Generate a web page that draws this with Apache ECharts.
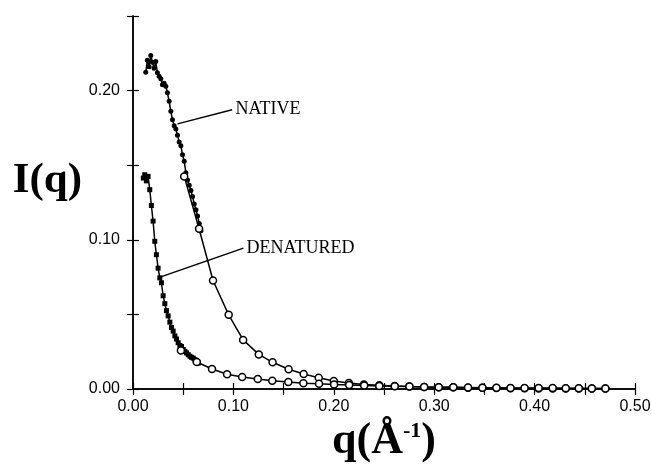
<!DOCTYPE html>
<html>
<head>
<meta charset="utf-8">
<script src="https://cdn.jsdelivr.net/npm/echarts@6/dist/echarts.min.js"></script>
<style>html,body{margin:0;padding:0;background:#fff;}#c{width:652px;height:470px;}</style>
</head>
<body>
<div id="c"></div>
<script>
// Native, filled dots (low q)
var qNativeFilled = [0.0127,0.0143,0.0160,0.0177,0.0193,0.0210,0.0227,0.0243,0.0260,0.0277,0.0293,0.0310,0.0327,0.0343,0.0360,0.0377,0.0393,0.0410,0.0427,0.0443,0.0460,0.0477,0.0493,0.0510,0.0527,0.0543,0.0560,0.0577,0.0593,0.0610,0.0627,0.0643,0.0660,0.0677];
var iNativeFilled = [0.2123,0.2203,0.2160,0.2235,0.2190,0.2150,0.2195,0.2119,0.2096,0.2079,0.2040,0.2050,0.2029,0.1985,0.1928,0.1861,0.1805,0.1765,0.1743,0.1700,0.1655,0.1630,0.1570,0.1526,0.1450,0.1400,0.1365,0.1330,0.1290,0.1240,0.1201,0.1160,0.1110,0.1060];
// Native, open circles
var qNativeOpen = [0.0510,0.0658,0.0797,0.0953,0.1097,0.1253,0.1390,0.1550,0.1700,0.1850,0.2000,0.2150,0.2300,0.2453,0.2607,0.2753,0.2900,0.3045,0.3190,0.3337,0.3480,0.3620,0.3760,0.3900,0.4040,0.4180,0.4310,0.4440,0.4570,0.4705];
var iNativeOpen = [0.1425,0.1074,0.0727,0.0497,0.0329,0.0232,0.0179,0.0132,0.0101,0.0076,0.0054,0.0040,0.0030,0.0025,0.0020,0.0016,0.0013,0.0011,0.0011,0.0009,0.0009,0.0006,0.0005,0.0005,0.0004,0.0004,0.0004,0.0003,0.0003,0.0003];
// Denatured, filled squares (low q)
var qDenatFilled = [0.0103,0.0117,0.0133,0.0150,0.0167,0.0183,0.0200,0.0217,0.0233,0.0250,0.0267,0.0283,0.0300,0.0317,0.0333,0.0350,0.0367,0.0383,0.0400,0.0417,0.0433,0.0450,0.0467,0.0483,0.0500,0.0517,0.0533,0.0550,0.0567,0.0583,0.0600,0.0617,0.0633,0.0650];
var iDenatFilled = [0.1414,0.1436,0.1395,0.1425,0.1336,0.1230,0.1125,0.0990,0.0900,0.0810,0.0745,0.0712,0.0625,0.0572,0.0525,0.0490,0.0448,0.0412,0.0388,0.0356,0.0335,0.0310,0.0292,0.0285,0.0265,0.0252,0.0242,0.0230,0.0219,0.0212,0.0207,0.0196,0.0185,0.0174];
// Denatured, open circles
var qDenatOpen = [0.0477,0.0635,0.0787,0.0937,0.1087,0.1243,0.1387,0.1547,0.1697,0.1853,0.2003,0.2153,0.2303,0.2453,0.2607,0.2753,0.2900,0.3045,0.3190,0.3337,0.3480,0.3620,0.3760,0.3900,0.4040,0.4180,0.4310,0.4440,0.4570,0.4705];
var iDenatOpen = [0.0258,0.0181,0.0134,0.0099,0.0081,0.0067,0.0056,0.0047,0.0038,0.0035,0.0030,0.0027,0.0023,0.0020,0.0018,0.0016,0.0014,0.0012,0.0011,0.0010,0.0009,0.0008,0.0007,0.0007,0.0006,0.0006,0.0005,0.0005,0.0004,0.0004];
// Annotations
var labelNames = ['NATIVE', 'DENATURED'];
var leaderFrom = [[0.0443, 0.1777], [0.0270, 0.0750]];
var leaderTo = [[0.0987, 0.1872], [0.1100, 0.0944]];
var labelAt = [[0.1020, 0.1872], [0.1130, 0.0944]];

function zip(a, b) { return a.map(function (v, i) { return [v, b[i]]; }); }

var chart = echarts.init(document.getElementById('c'), null, {renderer: 'canvas'});
var serif = '"Liberation Serif", "DejaVu Serif", serif';
var sans = '"Liberation Sans", Arial, sans-serif';
function tickFmt(v) {
  return (Math.round(v * 100) % 10 === 0) ? v.toFixed(2) : '';
}
var axisLine = {show: true, lineStyle: {color: '#000', width: 1.5}};
var axisTick = {show: true, inside: true, length: 6, lineStyle: {color: '#000', width: 1.2}};

var lineCommon = {type: 'line', xAxisIndex: 0, yAxisIndex: 0, lineStyle: {color: '#000', width: 1.5}, silent: true, z: 3};

chart.setOption({
  animation: false,
  backgroundColor: '#fff',
  grid: {left: 133, right: 17, top: 16, bottom: 81, containLabel: false, outerBoundsMode: 'none'},
  xAxis: [{
    type: 'value', min: 0, max: 0.5, interval: 0.05, position: 'bottom',
    axisLine: axisLine, axisTick: axisTick, splitLine: {show: false},
    axisLabel: {formatter: tickFmt, color: '#000', fontFamily: sans, fontSize: 16, margin: 10},
    name: '{a|q(Å}{s|-1}{a|)}', nameLocation: 'middle', nameGap: 27,
    nameTextStyle: {rich: {
      a: {fontFamily: serif, fontWeight: 'bold', fontSize: 44, color: '#000'},
      s: {fontFamily: serif, fontWeight: 'bold', fontSize: 22, color: '#000', verticalAlign: 'top', padding: [0, 0, 20, 0]}
    }}
  }, {
    type: 'value', min: 0, max: 0.5, interval: 0.05, position: 'top',
    axisLine: axisLine, axisTick: axisTick, axisLabel: {show: false}, splitLine: {show: false}
  }],
  yAxis: [{
    type: 'value', min: 0, max: 0.25, interval: 0.05, position: 'left',
    axisLine: axisLine, axisTick: axisTick, splitLine: {show: false},
    axisLabel: {formatter: tickFmt, color: '#000', fontFamily: sans, fontSize: 16, margin: 13},
    name: 'I(q)', nameLocation: 'middle', nameRotate: 0, nameGap: 51,
    nameTextStyle: {fontFamily: serif, fontWeight: 'bold', fontSize: 43, color: '#000', verticalAlign: 'bottom'}
  }, {
    type: 'value', min: 0, max: 0.25, interval: 0.05, position: 'right',
    axisLine: axisLine, axisTick: axisTick, axisLabel: {show: false}, splitLine: {show: false}
  }],
  series: [
    Object.assign({}, lineCommon, {
      name: 'Native filled', data: zip(qNativeFilled, iNativeFilled),
      symbol: 'circle', symbolSize: 5, itemStyle: {color: '#000'}
    }),
    Object.assign({}, lineCommon, {
      name: 'Native open', data: zip(qNativeOpen, iNativeOpen),
      symbol: 'circle', symbolSize: 7, itemStyle: {color: '#fff', borderColor: '#000', borderWidth: 1.5}, z: 4
    }),
    Object.assign({}, lineCommon, {
      name: 'Denatured filled', data: zip(qDenatFilled, iDenatFilled),
      symbol: 'rect', symbolSize: 5, itemStyle: {color: '#000'}
    }),
    Object.assign({}, lineCommon, {
      name: 'Denatured open', data: zip(qDenatOpen, iDenatOpen),
      symbol: 'circle', symbolSize: 7, itemStyle: {color: '#fff', borderColor: '#000', borderWidth: 1.5}, z: 4
    }),
    {
      type: 'line', name: 'annotations', data: [], silent: true,
      markLine: {
        symbol: ['none', 'none'], silent: true, animation: false,
        lineStyle: {color: '#000', width: 1.5, type: 'solid'},
        label: {show: false},
        data: leaderFrom.map(function (p, i) { return [{coord: p}, {coord: leaderTo[i]}]; })
      },
      markPoint: {
        symbol: 'circle', symbolSize: 0, silent: true, animation: false,
        label: {show: true, position: 'right', distance: 0, color: '#000', fontFamily: serif, fontSize: 18,
          formatter: function (p) { return p.name; }},
        data: labelAt.map(function (p, i) { return {name: labelNames[i], coord: p}; })
      }
    }
  ]
});
</script>
</body>
</html>
